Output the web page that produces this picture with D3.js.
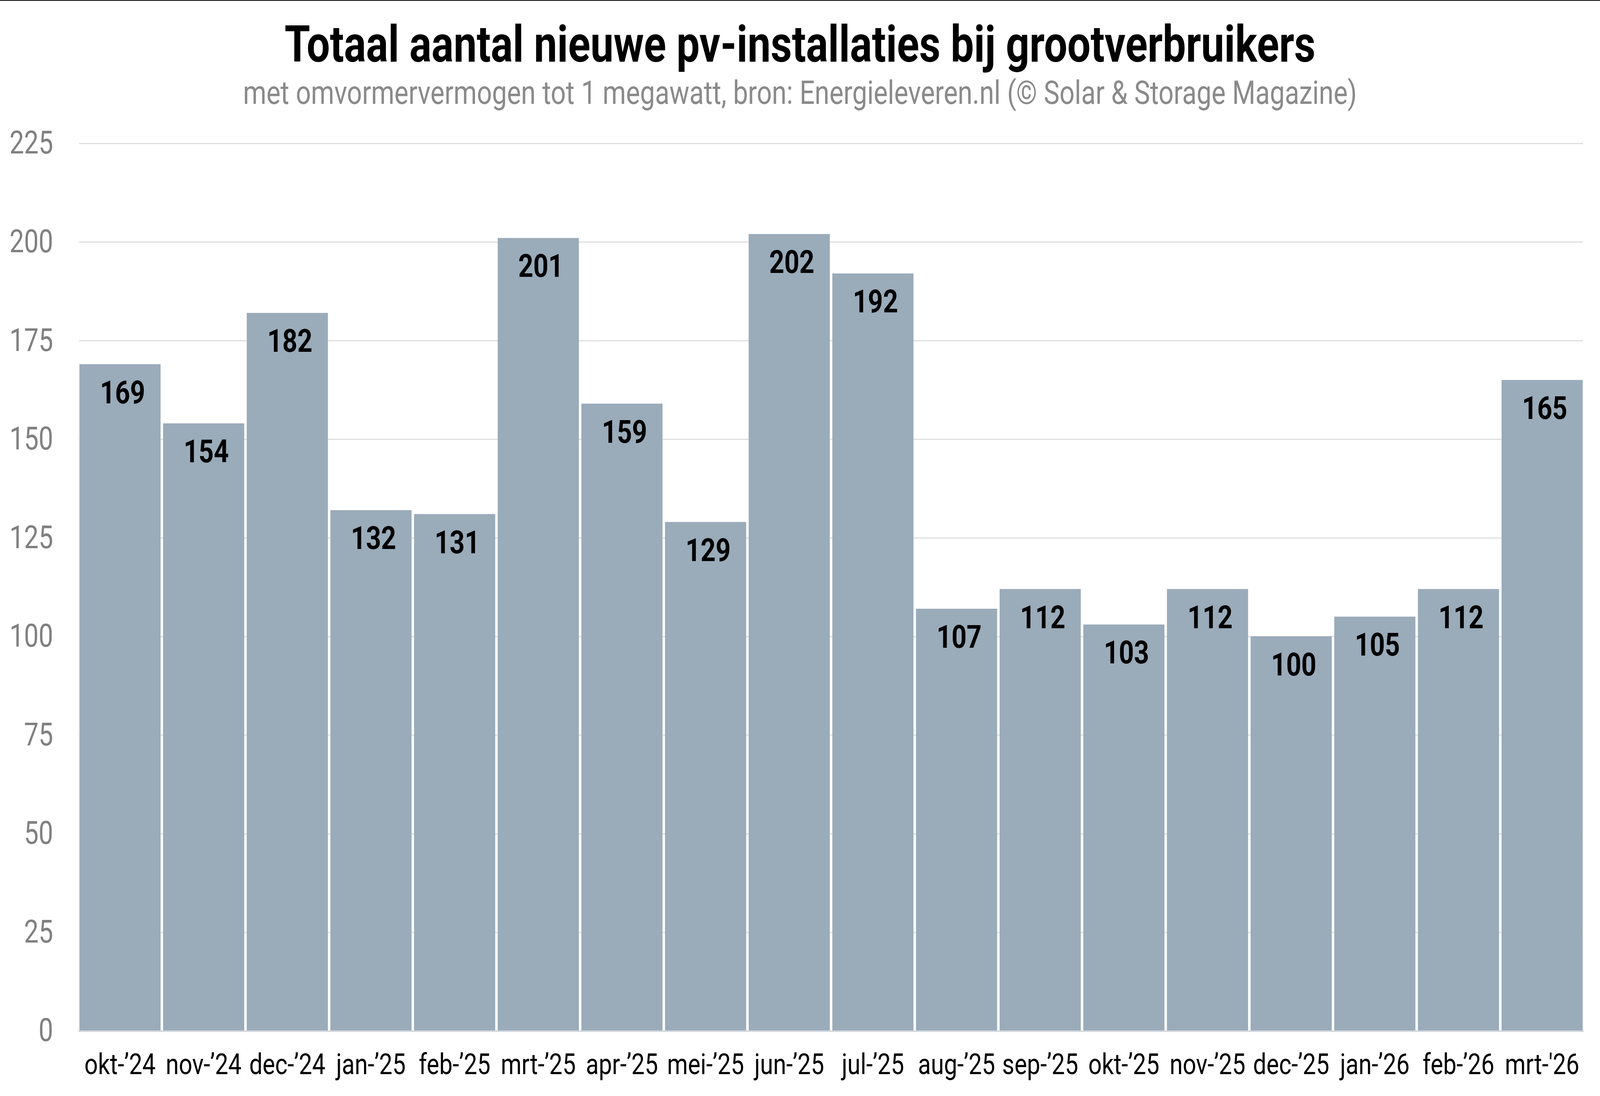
<!DOCTYPE html>
<html>
<head>
<meta charset="utf-8">
<script src="https://cdn.jsdelivr.net/npm/d3@7"></script>
<style>
  html, body { margin: 0; padding: 0; background: #fff; overflow: hidden; }
  svg { display: block; width: 100vw; height: 100vh; font-family: Roboto, "Noto Sans", sans-serif; }
</style>
</head>
<body>
<div id="chart"></div>
<script>
// Months (category labels) and counts of new installations
const months = ["okt-\u201924", "nov-\u201924", "dec-\u201924", "jan-\u201925", "feb-\u201925", "mrt-\u201925",
  "apr-\u201925", "mei-\u201925", "jun-\u201925", "jul-\u201925", "aug-\u201925", "sep-\u201925",
  "okt-\u201925", "nov-\u201925", "dec-\u201925", "jan-\u201926", "feb-\u201926", "mrt-'26"];
const counts = [169, 154, 182, 132, 131, 201, 159, 129, 202, 192, 107, 112, 103, 112, 100, 105, 112, 165];
const yTicks = [0, 25, 50, 75, 100, 125, 150, 175, 200, 225];

const title = "Totaal aantal nieuwe pv-installaties bij grootverbruikers";
const subtitle = "met omvormervermogen tot 1 megawatt, bron: Energieleveren.nl (\u00a9 Solar & Storage Magazine)";

const W = 4996, H = 2807;
const margin = { top: 367, right: 53, bottom: 167, left: 247 };
const width = W - margin.left - margin.right;
const height = H - margin.top - margin.bottom;

const data = months.map((m, i) => ({ month: m, count: counts[i] }));

// drawn in a fixed 4996x2807 coordinate space, scaled to the window
const svg = d3.select("#chart")
  .append("svg")
  .attr("viewBox", "0 0 " + W + " " + H)
  .attr("preserveAspectRatio", "none");

// thin dark rule along the top edge
svg.append("line")
  .attr("x1", 0)
  .attr("x2", W)
  .attr("y1", 1)
  .attr("y2", 1)
  .attr("stroke", "#000")
  .attr("stroke-width", 2);

// Title and subtitle
svg.append("text")
  .attr("x", W / 2)
  .attr("y", 158)
  .attr("text-anchor", "middle")
  .attr("font-size", 129)
  .attr("font-weight", 700)
  .attr("fill", "#000")
  .text(title);

svg.append("text")
  .attr("x", W / 2)
  .attr("y", 266)
  .attr("text-anchor", "middle")
  .attr("font-size", 83)
  .attr("fill", "#8a8a8a")
  .text(subtitle);

const g = svg.append("g")
  .attr("transform", "translate(" + margin.left + "," + margin.top + ")");

// Scales
const x = d3.scaleBand()
  .domain(months)
  .range([1, width - 1])
  .paddingInner(0.03)
  .paddingOuter(0);

const y = d3.scaleLinear()
  .domain([0, 225])
  .range([height, 0]);

// Gridlines + y labels
const yAxis = g.append("g")
  .call(d3.axisLeft(y)
    .tickValues(yTicks)
    .tickSize(-width)
    .tickPadding(81)
    .tickFormat(d3.format("d")));
yAxis.select(".domain").remove();
yAxis.selectAll(".tick line")
  .attr("stroke", "#dedede")
  .attr("stroke-width", 3);
yAxis.selectAll(".tick text")
  .attr("font-size", 81)
  .attr("fill", "#808080")
  .attr("font-family", "Roboto, sans-serif");

// Bars
g.selectAll("rect.bar")
  .data(data)
  .join("rect")
  .attr("class", "bar")
  .attr("x", d => x(d.month))
  .attr("y", d => y(d.count))
  .attr("width", x.bandwidth())
  .attr("height", d => height - y(d.count))
  .attr("fill", "#9aabba");

// Baseline
g.append("line")
  .attr("x1", -2)
  .attr("x2", width + 2)
  .attr("y1", height + 1)
  .attr("y2", height + 1)
  .attr("stroke", "#d3d8de")
  .attr("stroke-width", 4);

// Value labels inside the bars
g.selectAll("text.val")
  .data(data)
  .join("text")
  .attr("class", "val")
  .attr("x", d => x(d.month) + x.bandwidth() / 2 + 8)
  .attr("y", d => y(d.count) + 100)
  .attr("text-anchor", "middle")
  .attr("font-size", 82)
  .attr("font-weight", 700)
  .attr("fill", "#000")
  .text(d => d.count);

// Month labels
const xAxis = g.append("g")
  .attr("transform", "translate(0," + height + ")")
  .call(d3.axisBottom(x).tickSize(0).tickPadding(58));
xAxis.select(".domain").remove();
xAxis.selectAll(".tick text")
  .attr("font-size", 74)
  .attr("fill", "#000")
  .attr("font-family", "Roboto, sans-serif");
</script>
</body>
</html>
